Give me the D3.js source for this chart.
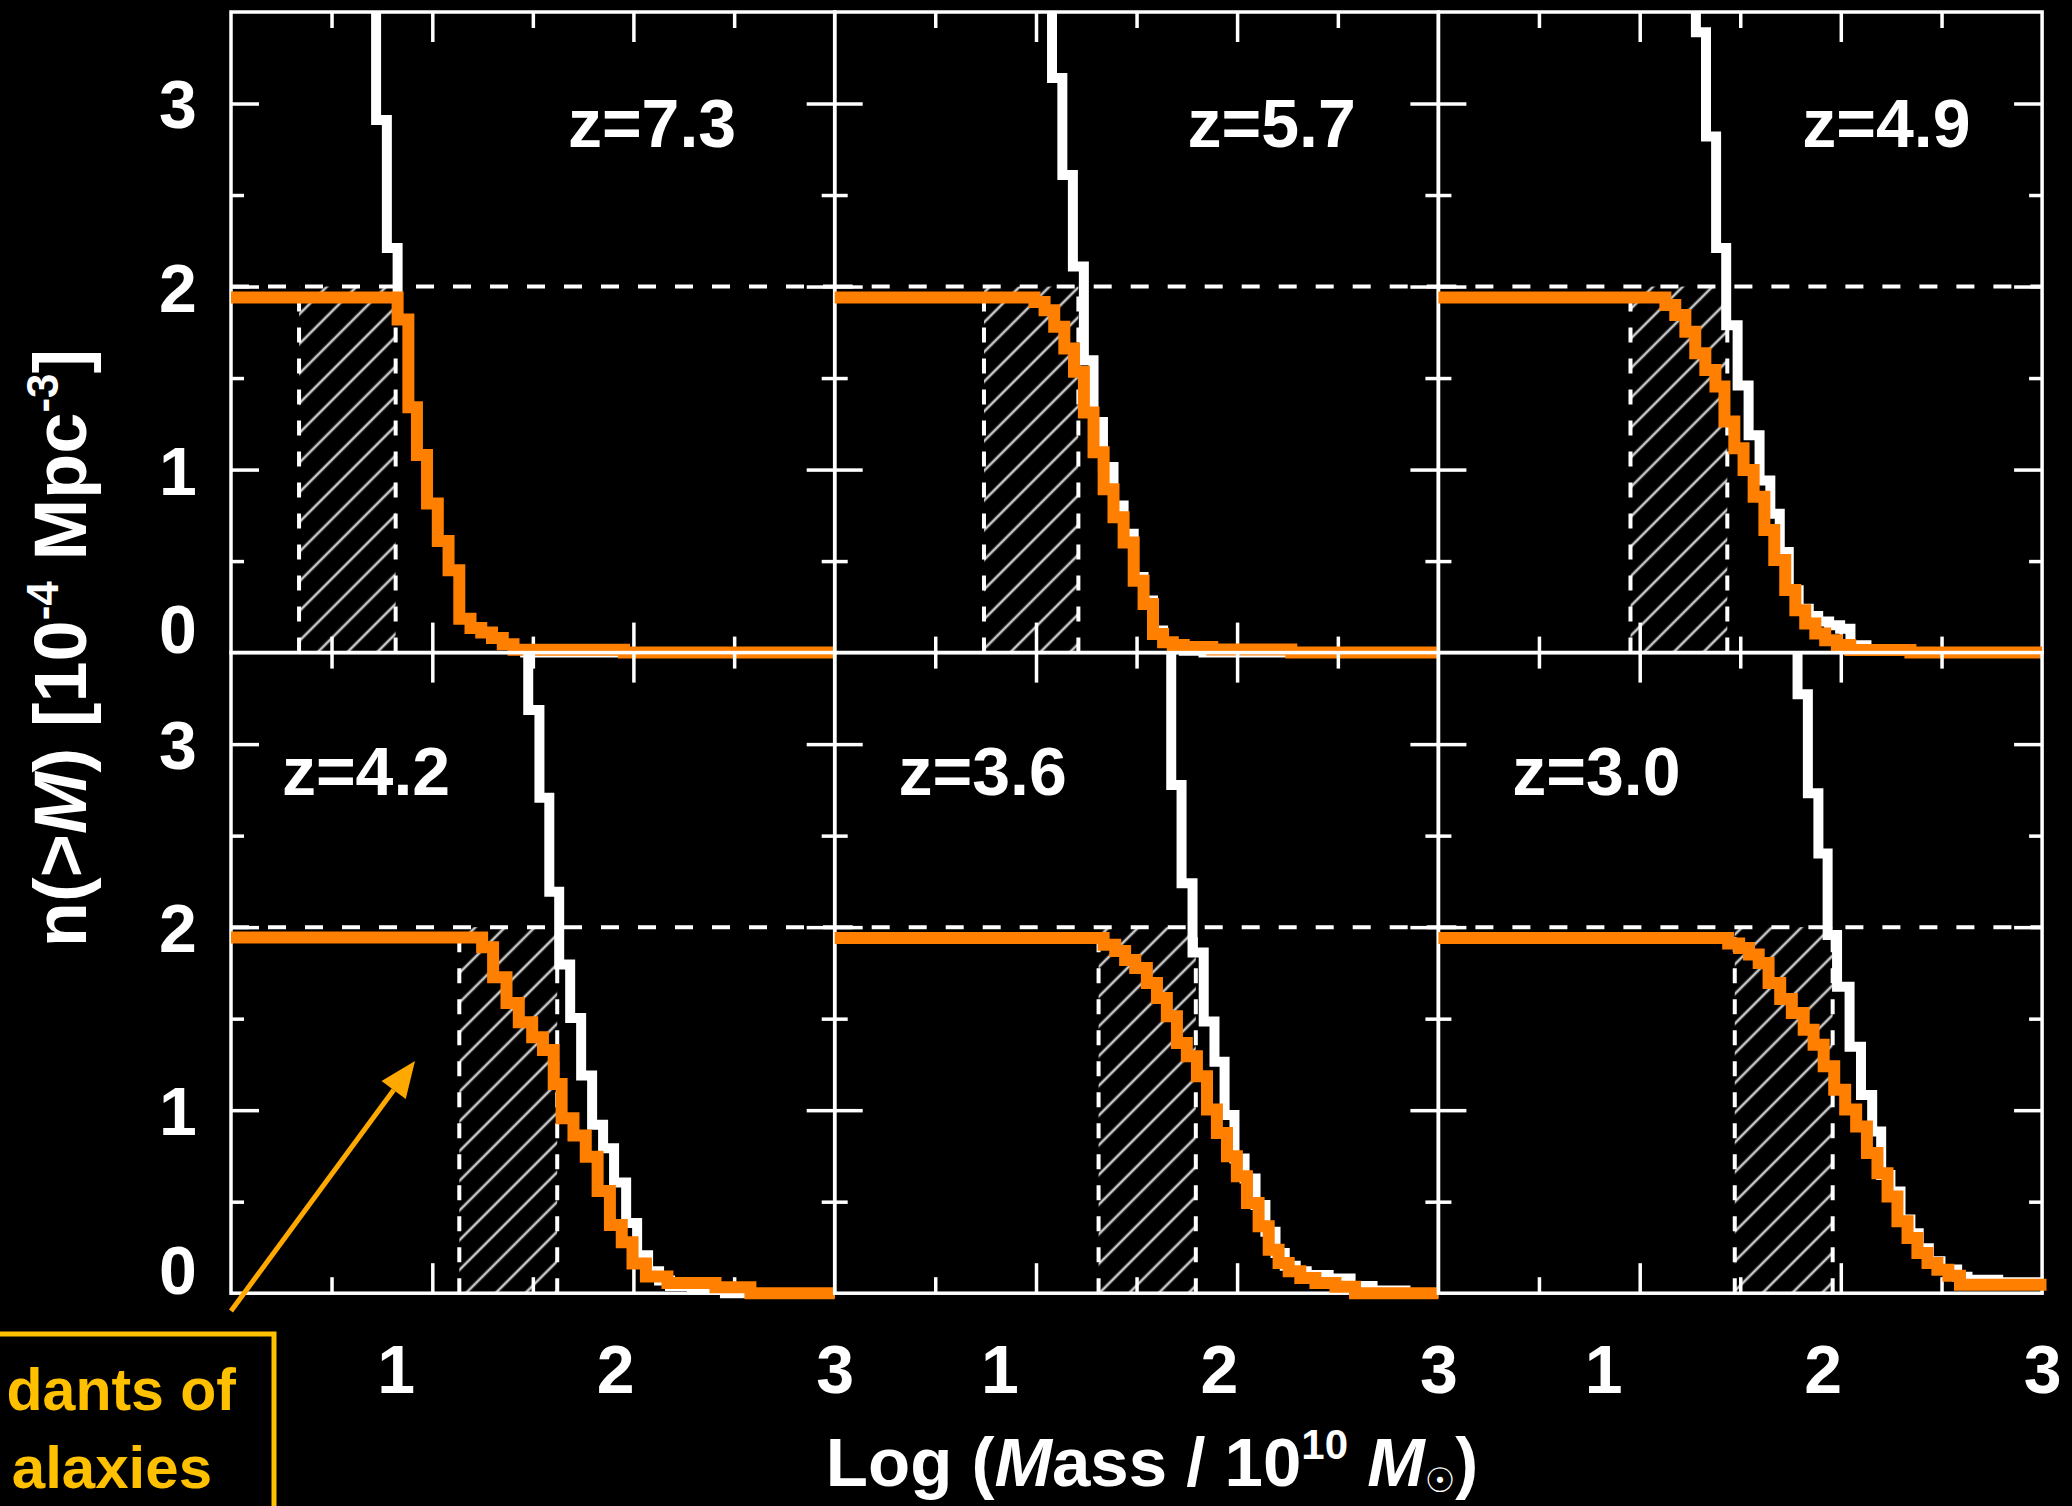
<!DOCTYPE html>
<html>
<head>
<meta charset="utf-8">
<script src="https://cdn.jsdelivr.net/npm/d3@7"></script>
<style>
  html, body { margin: 0; padding: 0; background: #000; }
  svg { display: block; }
  text { font-family: "Liberation Sans", Arial, sans-serif; font-weight: bold; }
</style>
</head>
<body>
<svg id="chart" width="2072" height="1506"></svg>
<script>
// ---- axes ----
const xDomain = [0.25, 3];
const yDomain = [0, 3.5];
const xTickLabels = [1, 2, 3];
const yTickLabels = [0, 1, 2, 3];
const xMajorTicks = [1.167, 2.083];
const xMinorTicks = [0.708, 1.625, 2.542];
const yMajorTicks = [1, 2, 3];
const yMinorTicks = [0.5, 1.5, 2.5];

// ---- panels ----
const redshiftLabels = ["z=7.3", "z=5.7", "z=4.9", "z=4.2", "z=3.6", "z=3.0"];
const selectionDensity = 2;
const hatchRanges = [[0.56, 1.0], [0.93, 1.36], [1.125, 1.566], [1.29, 1.736], [1.452, 1.895], [1.60, 2.046]];

// cumulative number density n(>M): each pair is [mass where the step starts, new level]
const allGalaxies_z73 = [[0.25, 3.8], [0.911, 2.91], [0.96, 2.21], [1.009, 1.82], [1.058, 1.34], [1.097, 1.08], [1.143, 0.815], [1.192, 0.61], [1.241, 0.45], [1.29, 0.185], [1.341, 0.135], [1.39, 0.11], [1.439, 0.08], [1.488, 0.045], [1.537, 0.02], [1.59, 0.0], [3.0, 0.0]];
const descendants_z73 = [[0.25, 1.94], [1.009, 1.82], [1.058, 1.34], [1.097, 1.08], [1.143, 0.815], [1.192, 0.61], [1.241, 0.45], [1.29, 0.185], [1.341, 0.135], [1.39, 0.11], [1.439, 0.08], [1.488, 0.045], [1.537, 0.015], [2.04, 0.0], [3.0, 0.0]];

const allGalaxies_z57 = [[0.25, 3.8], [1.24, 3.14], [1.287, 2.61], [1.335, 2.11], [1.385, 1.597], [1.429, 1.26], [1.472, 1.014], [1.52, 0.804], [1.566, 0.649], [1.612, 0.413], [1.657, 0.285], [1.70, 0.121], [1.746, 0.057], [1.791, 0.025], [1.84, 0.01], [1.93, 0.0], [3.0, 0.0]];
const descendants_z57 = [[0.25, 1.94], [1.16, 1.915], [1.206, 1.871], [1.25, 1.78], [1.296, 1.662], [1.34, 1.535], [1.385, 1.312], [1.429, 1.094], [1.475, 0.893], [1.52, 0.739], [1.566, 0.602], [1.612, 0.393], [1.657, 0.265], [1.70, 0.101], [1.746, 0.056], [1.79, 0.041], [1.84, 0.03], [1.97, 0.017], [2.33, 0.0], [3.0, 0.0]];

const allGalaxies_z49 = [[0.25, 3.8], [1.423, 3.39], [1.469, 2.82], [1.515, 2.21], [1.561, 1.788], [1.613, 1.46], [1.663, 1.187], [1.713, 0.94], [1.762, 0.759], [1.805, 0.549], [1.846, 0.34], [1.891, 0.24], [1.937, 0.2], [1.98, 0.17], [2.03, 0.15], [2.08, 0.13], [2.127, 0.04], [2.2, 0.01], [2.4, 0.0], [3.0, 0.0]];
const descendants_z49 = [[0.25, 1.94], [1.284, 1.899], [1.329, 1.844], [1.375, 1.753], [1.42, 1.635], [1.466, 1.544], [1.512, 1.454], [1.553, 1.262], [1.598, 1.116], [1.64, 0.997], [1.686, 0.852], [1.735, 0.67], [1.78, 0.506], [1.83, 0.342], [1.876, 0.232], [1.921, 0.159], [1.967, 0.104], [2.012, 0.068], [2.065, 0.041], [2.126, 0.014], [2.4, 0.0], [3.0, 0.0]];

const allGalaxies_z42 = [[0.25, 3.8], [1.604, 3.186], [1.655, 2.707], [1.70, 2.193], [1.745, 1.796], [1.795, 1.504], [1.845, 1.189], [1.895, 0.921], [1.945, 0.792], [1.995, 0.605], [2.05, 0.384], [2.10, 0.208], [2.15, 0.12], [2.2, 0.07], [2.25, 0.04], [2.35, 0.02], [2.5, 0.0], [3.0, 0.0]];
const descendants_z42 = [[0.25, 1.943], [1.394, 1.89], [1.444, 1.726], [1.505, 1.586], [1.561, 1.481], [1.622, 1.399], [1.671, 1.329], [1.72, 1.143], [1.756, 0.956], [1.81, 0.862], [1.866, 0.745], [1.92, 0.558], [1.976, 0.372], [2.03, 0.278], [2.079, 0.162], [2.14, 0.091], [2.238, 0.056], [2.457, 0.033], [2.616, 0.0], [3.0, 0.0]];

const allGalaxies_z36 = [[0.25, 3.8], [1.783, 2.777], [1.83, 2.24], [1.88, 1.862], [1.931, 1.484], [1.98, 1.265], [2.026, 0.974], [2.071, 0.736], [2.117, 0.627], [2.167, 0.482], [2.212, 0.336], [2.258, 0.22], [2.30, 0.15], [2.35, 0.12], [2.40, 0.1], [2.5, 0.08], [2.6, 0.04], [2.7, 0.015], [2.85, 0.0], [3.0, 0.0]];
const descendants_z36 = [[0.25, 1.94], [1.475, 1.904], [1.528, 1.87], [1.573, 1.82], [1.619, 1.777], [1.672, 1.695], [1.718, 1.613], [1.763, 1.513], [1.809, 1.367], [1.854, 1.294], [1.90, 1.185], [1.946, 1.003], [1.991, 0.875], [2.037, 0.748], [2.082, 0.639], [2.128, 0.493], [2.181, 0.366], [2.227, 0.238], [2.272, 0.165], [2.318, 0.12], [2.371, 0.083], [2.44, 0.056], [2.531, 0.035], [2.62, 0.0], [3.0, 0.0]];

const allGalaxies_z30 = [[0.25, 3.8], [1.886, 3.272], [1.933, 2.731], [1.981, 2.403], [2.023, 1.957], [2.066, 1.675], [2.123, 1.347], [2.175, 1.083], [2.226, 0.883], [2.267, 0.646], [2.309, 0.555], [2.355, 0.402], [2.40, 0.327], [2.438, 0.245], [2.484, 0.175], [2.537, 0.13], [2.613, 0.09], [2.66, 0.074], [2.8, 0.06], [3.0, 0.06]];
const descendants_z30 = [[0.25, 1.94], [1.57, 1.91], [1.62, 1.886], [1.665, 1.85], [1.709, 1.804], [1.754, 1.695], [1.807, 1.607], [1.86, 1.531], [1.914, 1.44], [1.959, 1.358], [2.005, 1.24], [2.053, 1.112], [2.103, 1.003], [2.153, 0.911], [2.202, 0.766], [2.25, 0.656], [2.296, 0.529], [2.341, 0.393], [2.387, 0.302], [2.432, 0.22], [2.478, 0.165], [2.523, 0.128], [2.573, 0.096], [2.626, 0.046], [3.02, 0.046]];

const allGalaxies = [allGalaxies_z73, allGalaxies_z57, allGalaxies_z49, allGalaxies_z42, allGalaxies_z36, allGalaxies_z30];
const descendants = [descendants_z73, descendants_z57, descendants_z49, descendants_z42, descendants_z36, descendants_z30];

// ---- layout ----
const layout = { left: 231, top: 12, panelW: 603.7, panelH: 640.6 };
const labelAnchor = [[421, 135], [437, 135], [448, 135], [135, 142], [148, 142], [158, 142]];
const ORANGE = "#ff7f00";

const svg = d3.select("#chart");
svg.append("rect").attr("width", 2072).attr("height", 1506).attr("fill", "#000");

const defs = svg.append("defs");
defs.append("pattern")
  .attr("id", "hatch")
  .attr("patternUnits", "userSpaceOnUse")
  .attr("width", 21).attr("height", 21)
  .attr("patternTransform", "rotate(45)")
  .append("line")
  .attr("x1", 10).attr("y1", 0).attr("x2", 10).attr("y2", 21)
  .attr("stroke", "#c8c8c8").attr("stroke-width", 2.6);
defs.append("clipPath").attr("id", "panel-clip")
  .append("rect")
  .attr("x", -14).attr("y", 0)
  .attr("width", layout.panelW + 28).attr("height", layout.panelH + 16);

const x = d3.scaleLinear().domain(xDomain).range([0, layout.panelW]);
const y = d3.scaleLinear().domain(yDomain).range([layout.panelH, 0]);
const stepLine = d3.line().x(d => x(d[0])).y(d => y(d[1])).curve(d3.curveStepAfter);

function frameTicks(g, axisFn, values, size, transform) {
  g.append("g")
    .attr("transform", transform)
    .call(axisFn.tickValues(values).tickSize(size).tickFormat(""))
    .call(a => a.select(".domain").remove())
    .selectAll("line")
    .attr("stroke", "#fff")
    .attr("stroke-width", 3.5);
}

redshiftLabels.forEach((label, i) => {
  const col = i % 3, row = Math.floor(i / 3);
  const g = svg.append("g")
    .attr("transform", `translate(${layout.left + col * layout.panelW},${layout.top + row * layout.panelH})`);

  // hatched mass range
  const [h0, h1] = hatchRanges[i];
  g.append("rect")
    .attr("x", x(h0)).attr("y", y(selectionDensity))
    .attr("width", x(h1) - x(h0))
    .attr("height", y(0) - y(selectionDensity))
    .attr("fill", "url(#hatch)");
  g.selectAll(".hatch-edge").data([h0, h1]).join("line")
    .attr("class", "hatch-edge")
    .attr("x1", d => x(d)).attr("x2", d => x(d))
    .attr("y1", y(0)).attr("y2", y(selectionDensity))
    .attr("stroke", "#fff").attr("stroke-width", 4)
    .attr("stroke-dasharray", "15,16");

  // selection density
  g.append("line")
    .attr("x1", x(xDomain[0])).attr("x2", x(xDomain[1]))
    .attr("y1", y(selectionDensity)).attr("y2", y(selectionDensity))
    .attr("stroke", "#fff").attr("stroke-width", 4)
    .attr("stroke-dasharray", "18,19");

  // frame and inward ticks
  g.append("rect")
    .attr("width", layout.panelW).attr("height", layout.panelH)
    .attr("fill", "none").attr("stroke", "#fff").attr("stroke-width", 3.5);
  frameTicks(g, d3.axisBottom(x), xMajorTicks, -30, `translate(0,${layout.panelH})`);
  frameTicks(g, d3.axisBottom(x), xMinorTicks, -16, `translate(0,${layout.panelH})`);
  frameTicks(g, d3.axisTop(x), xMajorTicks, -30, "translate(0,0)");
  frameTicks(g, d3.axisTop(x), xMinorTicks, -16, "translate(0,0)");
  frameTicks(g, d3.axisLeft(y), yMajorTicks, -28, "translate(0,0)");
  frameTicks(g, d3.axisLeft(y), yMinorTicks, -13, "translate(0,0)");
  frameTicks(g, d3.axisRight(y), yMajorTicks, -28, `translate(${layout.panelW},0)`);
  frameTicks(g, d3.axisRight(y), yMinorTicks, -13, `translate(${layout.panelW},0)`);

  // step curves
  const cg = g.append("g").attr("clip-path", "url(#panel-clip)");
  cg.append("path")
    .attr("d", stepLine(allGalaxies[i]))
    .attr("fill", "none").attr("stroke", "#fff")
    .attr("stroke-width", 10).attr("stroke-linejoin", "miter");
  cg.append("path")
    .attr("d", stepLine(descendants[i]))
    .attr("fill", "none").attr("stroke", ORANGE)
    .attr("stroke-width", 12).attr("stroke-linejoin", "miter");

  // redshift label
  g.append("text")
    .attr("x", labelAnchor[i][0]).attr("y", labelAnchor[i][1])
    .attr("text-anchor", "middle")
    .attr("font-size", 68).attr("fill", "#fff")
    .text(label);

  // tick labels
  if (row === 1) {
    g.append("g")
      .attr("transform", `translate(0,${layout.panelH})`)
      .call(d3.axisBottom(x).tickValues(xTickLabels).tickSize(0).tickFormat(d3.format("d")))
      .call(a => a.select(".domain").remove())
      .selectAll("text")
      .attr("y", 100).attr("dy", 0)
      .attr("font-size", 68).attr("fill", "#fff");
  }
  if (col === 0) {
    g.append("g")
      .call(d3.axisLeft(y).tickValues(yTickLabels).tickSize(0).tickFormat(d3.format("d")))
      .call(a => a.select(".domain").remove())
      .selectAll("text")
      .attr("x", -53).attr("text-anchor", "middle")
      .attr("dy", d => d === 0 ? "-0.0em" : "0.36em")
      .attr("font-size", 68).attr("fill", "#fff");
  }
});

// y-axis title
const yTitle = svg.append("text")
  .attr("transform", "translate(86,648) rotate(-90)")
  .attr("text-anchor", "middle")
  .attr("font-size", 74).attr("fill", "#fff");
yTitle.append("tspan").text("n(>");
yTitle.append("tspan").attr("font-style", "italic").text("M");
yTitle.append("tspan").text(") [10");
yTitle.append("tspan").attr("font-size", 44).attr("dy", -28).text("-4");
yTitle.append("tspan").attr("dy", 28).text(" Mpc");
yTitle.append("tspan").attr("font-size", 44).attr("dy", -28).text("-3");
yTitle.append("tspan").attr("dy", 28).text("]");

// x-axis title
const xTitle = svg.append("text")
  .attr("x", 1152).attr("y", 1486)
  .attr("text-anchor", "middle")
  .attr("font-size", 69).attr("fill", "#fff");
xTitle.append("tspan").text("Log (");
xTitle.append("tspan").attr("font-style", "italic").text("M");
xTitle.append("tspan").text("ass / 10");
xTitle.append("tspan").attr("font-size", 42).attr("dy", -27).text("10");
xTitle.append("tspan").attr("dy", 27).text(" ");
xTitle.append("tspan").attr("font-style", "italic").text("M");
xTitle.append("tspan").attr("font-size", 34).attr("dy", 6)
  .style("font-family", "'DejaVu Sans', sans-serif").style("font-weight", "normal").text("\u2609");
xTitle.append("tspan").attr("dy", -6).text(")");

// callout box and arrow
const GOLD = "#ffc000";
svg.append("rect")
  .attr("x", -20).attr("y", 1334).attr("width", 294).attr("height", 220)
  .attr("fill", "none").attr("stroke", GOLD).attr("stroke-width", 5);
svg.append("text").attr("x", 236).attr("y", 1410).attr("text-anchor", "end")
  .attr("font-size", 59).attr("fill", GOLD).text("dants of");
svg.append("text").attr("x", 212).attr("y", 1488).attr("text-anchor", "end")
  .attr("font-size", 60).attr("fill", GOLD).text("alaxies");

const ARROW = "#ffa800";
const tail = [231, 1311], tip = [415, 1061];
const len = Math.hypot(tip[0] - tail[0], tip[1] - tail[1]);
const u = [(tip[0] - tail[0]) / len, (tip[1] - tail[1]) / len];
const nrm = [-u[1], u[0]];
const headL = 36, headW = 15;
const base = [tip[0] - headL * u[0], tip[1] - headL * u[1]];
svg.append("line")
  .attr("x1", tail[0]).attr("y1", tail[1])
  .attr("x2", base[0]).attr("y2", base[1])
  .attr("stroke", ARROW).attr("stroke-width", 5);
svg.append("path")
  .attr("d", d3.line()([tip,
    [base[0] + headW * nrm[0], base[1] + headW * nrm[1]],
    [base[0] - headW * nrm[0], base[1] - headW * nrm[1]]]) + "Z")
  .attr("fill", ARROW);
</script>
</body>
</html>
